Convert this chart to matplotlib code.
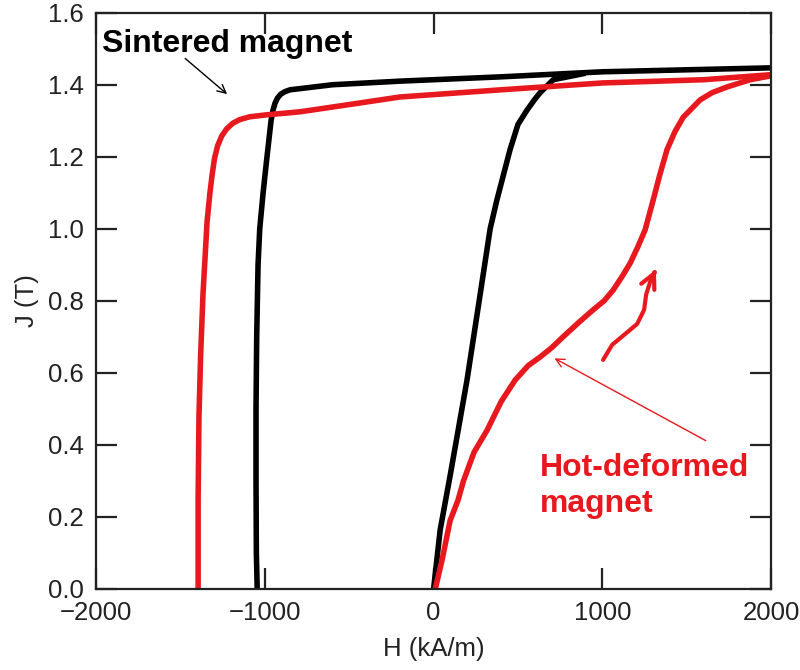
import matplotlib
matplotlib.use("Agg")
import matplotlib.pyplot as plt

plt.rcParams["font.family"] = ["Liberation Sans", "DejaVu Sans"]

# sintered magnet, demagnetisation branch (H in kA/m, J in T)
sint_down_H = [2000, 1000, 400, -200, -600, -850, -880, -905, -925, -940, -952,
               -963, -987, -1010, -1030, -1040, -1048, -1052, -1052, -1050, -1045]
sint_down_J = [1.447, 1.436, 1.422, 1.410, 1.400, 1.386, 1.381, 1.374, 1.363,
               1.348, 1.328, 1.300, 1.200, 1.100, 1.000, 0.900, 0.700, 0.500,
               0.300, 0.100, 0.0]

# sintered magnet, magnetisation branch
sint_up_H = [0, 39, 100, 198, 270, 335, 375, 453, 500, 554, 600, 631, 709, 900]
sint_up_J = [0.0, 0.164, 0.32, 0.58, 0.80, 1.00, 1.08, 1.22, 1.29, 1.33, 1.36,
             1.378, 1.414, 1.432]

# hot-deformed magnet, demagnetisation branch
hot_down_H = [2000, 1600, 1000, 400, -200, -500, -790, -1000, -1090, -1150, -1190,
              -1225, -1255, -1280, -1298, -1312, -1325, -1342, -1366, -1380, -1390,
              -1395, -1395]
hot_down_J = [1.428, 1.414, 1.405, 1.386, 1.366, 1.345, 1.325, 1.316, 1.311, 1.303,
              1.293, 1.278, 1.258, 1.230, 1.195, 1.150, 1.100, 1.020, 0.820, 0.650,
              0.480, 0.250, 0.0]

# hot-deformed magnet, magnetisation branch
hot_up_H = [10, 50, 98, 145, 177, 240, 316, 400, 483, 560, 631, 700, 767, 860, 945,
            1010, 1064, 1120, 1165, 1210, 1253, 1301, 1340, 1383, 1430, 1479, 1579,
            1650, 1739, 1876, 2000]
hot_up_J = [0.0, 0.08, 0.19, 0.247, 0.30, 0.38, 0.44, 0.52, 0.58, 0.62, 0.644, 0.67,
            0.70, 0.74, 0.775, 0.80, 0.83, 0.87, 0.905, 0.95, 0.997, 1.08, 1.15, 1.22,
            1.27, 1.31, 1.358, 1.378, 1.394, 1.414, 1.425]

red = "#e8191e"
ink = "#222222"

fig = plt.figure(figsize=(8, 6.7), dpi=100)
ax = fig.add_axes([0.12, 0.121, 0.844, 0.860])

ax.plot(sint_down_H, sint_down_J, color="black", lw=4, solid_capstyle="butt")
ax.plot(sint_up_H, sint_up_J, color="black", lw=4, solid_capstyle="butt")
ax.plot(hot_down_H, hot_down_J, color=red, lw=4, solid_capstyle="butt")
ax.plot(hot_up_H, hot_up_J, color=red, lw=4, solid_capstyle="butt")

ax.set_xlim(-2000, 2000)
ax.set_ylim(0, 1.6)
ax.set_xticks([-2000, -1000, 0, 1000, 2000])
ax.set_yticks([0.0, 0.2, 0.4, 0.6, 0.8, 1.0, 1.2, 1.4, 1.6])
ax.set_yticklabels(["0.0", "0.2", "0.4", "0.6", "0.8", "1.0", "1.2", "1.4", "1.6"])
ax.tick_params(direction="in", length=15, width=1.6, colors=ink,
               labelsize=18.5, top=True, right=True)
ax.tick_params(axis="x", pad=9)
ax.tick_params(axis="y", pad=9)
for s in ax.spines.values():
    s.set_linewidth(1.6)
    s.set_color(ink)

ax.set_xlabel("H (kA/m)", fontsize=18.5, color=ink, labelpad=8)
ax.set_ylabel("J (T)", fontsize=18.5, color=ink, labelpad=6)

# annotations
ax.text(-1964, 1.492, "Sintered magnet", fontsize=23, fontweight="bold",
        va="baseline", ha="left")
ax.annotate("", xy=(-1211, 1.369), xytext=(-1484, 1.478),
            arrowprops=dict(arrowstyle="->", color="black", lw=1, mutation_scale=15))

ax.text(631, 0.313, "Hot-deformed", fontsize=23, fontweight="bold", color=red,
        va="baseline", ha="left")
ax.text(631, 0.213, "magnet", fontsize=23, fontweight="bold", color=red,
        va="baseline", ha="left")
ax.annotate("", xy=(702, 0.644), xytext=(1627, 0.408),
            arrowprops=dict(arrowstyle="->", color=red, lw=1, mutation_scale=15))

sq_H = [1004, 1058, 1135, 1206, 1247, 1259, 1283, 1310]
sq_J = [0.636, 0.678, 0.708, 0.736, 0.775, 0.817, 0.853, 0.880]
ax.plot(sq_H, sq_J, color=red, lw=3, solid_capstyle="round")
ax.annotate("", xy=(1324, 0.894), xytext=(1300, 0.870),
            arrowprops=dict(arrowstyle="->", color=red, lw=3, mutation_scale=26))

fig.savefig("out.png", dpi=100)
